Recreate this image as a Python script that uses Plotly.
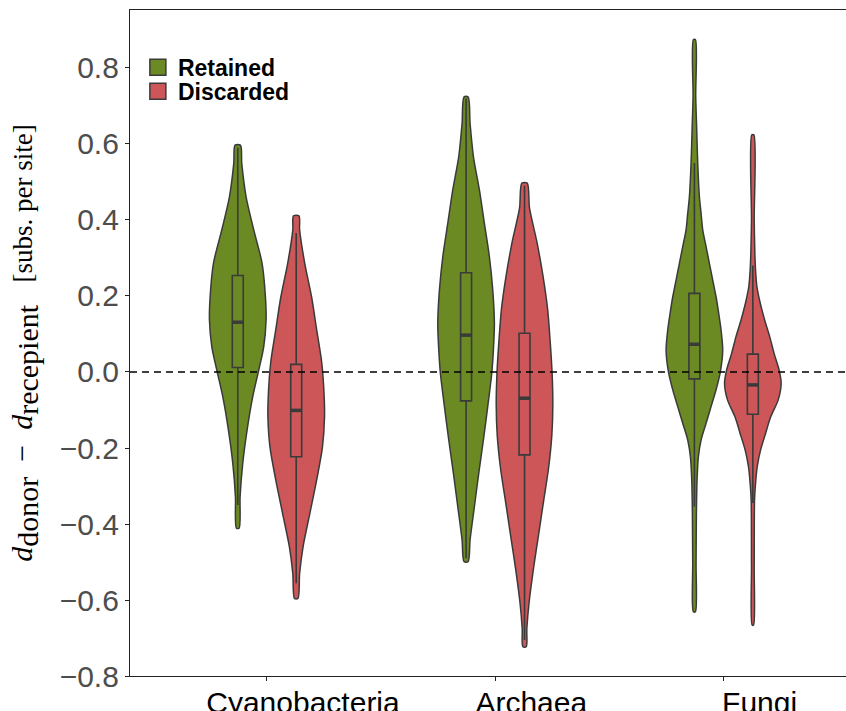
import plotly.graph_objects as go

# ---------------- data ----------------
categories = ["Cyanobacteria", "Archaea", "Fungi"]
groups = ["Retained", "Discarded"]

# violin density profiles (value, relative half-width)
ret_y = {
    "Cyanobacteria": [-0.411, -0.328, -0.240, -0.153, -0.065, 0.005, 0.067, 0.137, 0.198, 0.286, 0.374, 0.461, 0.549, 0.597],
    "Archaea": [-0.499, -0.442, -0.354, -0.267, -0.179, -0.091, -0.004, 0.058, 0.128, 0.216, 0.303, 0.391, 0.479, 0.567, 0.654, 0.724],
    "Fungi": [-0.631, -0.504, -0.372, -0.284, -0.223, -0.179, -0.135, -0.091, -0.047, 0.001, 0.058, 0.111, 0.154, 0.198, 0.242, 0.286, 0.330, 0.374, 0.418, 0.461, 0.549, 0.637, 0.725, 0.875],
}
ret_w = {
    "Cyanobacteria": [4, 7, 15, 28, 45, 63, 78, 85, 83, 73, 48, 25, 12, 8],
    "Archaea": [6, 12, 25, 38, 52, 65, 77, 82, 85, 80, 70, 55, 40, 22, 12, 6],
    "Fungi": [3, 5, 6, 8, 12, 20, 35, 50, 65, 78, 85, 80, 73, 65, 55, 45, 35, 25, 20, 15, 10, 7, 4, 3],
}
dis_y = {
    "Cyanobacteria": [-0.596, -0.530, -0.460, -0.372, -0.284, -0.197, -0.118, -0.065, 0.023, 0.111, 0.198, 0.286, 0.374, 0.411],
    "Archaea": [-0.723, -0.675, -0.604, -0.517, -0.429, -0.341, -0.254, -0.166, -0.087, -0.008, 0.080, 0.168, 0.255, 0.343, 0.431, 0.497],
    "Fungi": [-0.666, -0.512, -0.337, -0.293, -0.249, -0.205, -0.161, -0.118, -0.074, -0.030, 0.005, 0.049, 0.093, 0.137, 0.181, 0.225, 0.268, 0.312, 0.400, 0.624],
}
dis_w = {
    "Cyanobacteria": [5, 10, 20, 40, 60, 77, 83, 82, 75, 60, 45, 25, 10, 8],
    "Archaea": [5, 7, 14, 27, 42, 57, 72, 82, 85, 83, 77, 69, 55, 37, 15, 8],
    "Fungi": [2, 4, 5, 8, 13, 23, 38, 53, 75, 84, 78, 63, 50, 35, 22, 12, 8, 6, 4, 3],
}

# box statistics per category
ret_q1 = [0.012, -0.076, -0.018]
ret_med = [0.131, 0.097, 0.073]
ret_q3 = [0.254, 0.261, 0.207]
ret_lo = [-0.35, -0.49, -0.354]
ret_hi = [0.59, 0.72, 0.55]

dis_q1 = [-0.223, -0.218, -0.111]
dis_med = [-0.101, -0.069, -0.034]
dis_q3 = [0.020, 0.102, 0.047]
dis_lo = [-0.556, -0.705, -0.345]
dis_hi = [0.366, 0.49, 0.28]

y_ticks = [-0.8, -0.6, -0.4, -0.2, 0.0, 0.2, 0.4, 0.6, 0.8]

# ---------------- style ----------------
GREEN = "#6B8A23"
RED = "#CD5658"
EDGE = "#3a3a3a"
DODGE = 0.128
HALF_W = 0.124
BOX_HALF = 0.024
X_RANGE = [-0.6, 2.536]
Y_RANGE = [-0.8, 0.9526]

fig = go.Figure()


def violin_trace(name, ys, ws, sign, color):
    xs_all, ys_all = [], []
    for i, cat in enumerate(categories):
        c = i + sign * DODGE
        y = ys[cat]
        w = ws[cat]
        m = max(w)
        right = [c + HALF_W * v / m for v in w]
        left = [c - HALF_W * v / m for v in w][::-1]
        xs_all += right + left + [right[0], None]
        ys_all += y + y[::-1] + [y[0], None]
    return go.Scatter(
        x=xs_all, y=ys_all, mode="lines", fill="toself", fillcolor=color,
        line=dict(color=EDGE, width=1.5, shape="spline", smoothing=0.8),
        name=name, showlegend=False, hoverinfo="skip",
    )


fig.add_trace(violin_trace("Retained", ret_y, ret_w, -1, GREEN))
fig.add_trace(violin_trace("Discarded", dis_y, dis_w, +1, RED))


def box_traces(q1, med, q3, lo, hi, sign):
    xs = [i + sign * DODGE for i in range(len(categories))]
    # boxes on an overlaying axis so they are drawn above the violins
    fig.add_trace(go.Box(
        x=xs, q1=q1, median=med, q3=q3, lowerfence=lo, upperfence=hi,
        width=2 * BOX_HALF, fillcolor="rgba(0,0,0,0)", whiskerwidth=0,
        line=dict(color=EDGE, width=1.6), boxpoints=False, showlegend=False,
        hoverinfo="skip", xaxis="x2",
    ))
    mx, my = [], []
    for x, m in zip(xs, med):
        mx += [x - BOX_HALF, x + BOX_HALF, None]
        my += [m, m, None]
    fig.add_trace(go.Scatter(x=mx, y=my, mode="lines", line=dict(color=EDGE, width=3.5),
                             showlegend=False, hoverinfo="skip", xaxis="x2"))


box_traces(ret_q1, ret_med, ret_q3, ret_lo, ret_hi, -1)
box_traces(dis_q1, dis_med, dis_q3, dis_lo, dis_hi, +1)

# legend entries (one legend each, so they can sit tightly like the original)
for name, color, lg in zip(groups, [GREEN, RED], ["legend", "legend2"]):
    fig.add_trace(go.Scatter(
        x=[None], y=[None], name=name, mode="markers",
        marker=dict(symbol="square", size=22, color=color, line=dict(color=EDGE, width=1.5)),
        showlegend=True, legend=lg,
    ))

fig.add_shape(type="line", xref="paper", yref="y", x0=0, x1=1, y0=0, y1=0,
              line=dict(color="black", width=1.5, dash="7px,5px"), layer="above")

legend_font = dict(family="Liberation Sans", size=23, color="black", weight="bold")
fig.update_layout(
    width=846, height=711,
    margin=dict(l=130, r=0, t=10, b=35),
    plot_bgcolor="white", paper_bgcolor="white",
    showlegend=True,
    legend=dict(x=0.011, y=0.914, xanchor="left", yanchor="middle",
                bgcolor="rgba(0,0,0,0)", font=legend_font, itemwidth=30),
    legend2=dict(x=0.011, y=0.878, xanchor="left", yanchor="middle",
                 bgcolor="rgba(0,0,0,0)", font=legend_font, itemwidth=30),
    xaxis=dict(
        range=X_RANGE, tickmode="array", tickvals=[0, 1, 2], ticktext=categories,
        showline=True, linecolor="#222", linewidth=1.2, mirror=True,
        ticks="outside", ticklen=4, tickcolor="#222",
        showgrid=False, zeroline=False, automargin=False,
        ticklabelshift=36, ticklabelstandoff=-4,
        tickfont=dict(family="Liberation Sans", size=30, color="black"),
    ),
    xaxis2=dict(overlaying="x", range=X_RANGE, visible=False,
                showline=False, ticks="", showticklabels=False, showgrid=False,
                zeroline=False),
    yaxis=dict(
        range=Y_RANGE, tickmode="array", tickvals=y_ticks,
        ticktext=[f"{v:.1f}".replace("-", "\u2212") for v in y_ticks],
        showline=True, linecolor="#222", linewidth=1.2, mirror=False,
        ticks="outside", ticklen=4, tickcolor="#222",
        showgrid=False, zeroline=False, automargin=False,
        tickfont=dict(family="Liberation Sans", size=30, color="#4d4d4d"),
        title=dict(
            text="<i>d</i><sub><span style=\"font-size:30px\">donor</span></sub>&nbsp;&nbsp;\u2212&nbsp;&nbsp;"
                 "<i>d</i><sub><span style=\"font-size:30px\">recepient</span></sub>"
                 "&nbsp;&nbsp;&nbsp;<span style=\"font-size:27px\">[subs. per site]</span>",
            font=dict(family="Liberation Serif", size=30, color="black"),
            standoff=18,
        ),
    ),
)

# remove the page's default body margin and scrollbars so the figure fills the window
post = ("document.documentElement.style.overflow='hidden';"
        "document.body.style.overflow='hidden';"
        "document.body.style.margin='0';")
fig.write_html("out.html", post_script=post, config={"displayModeBar": False})
